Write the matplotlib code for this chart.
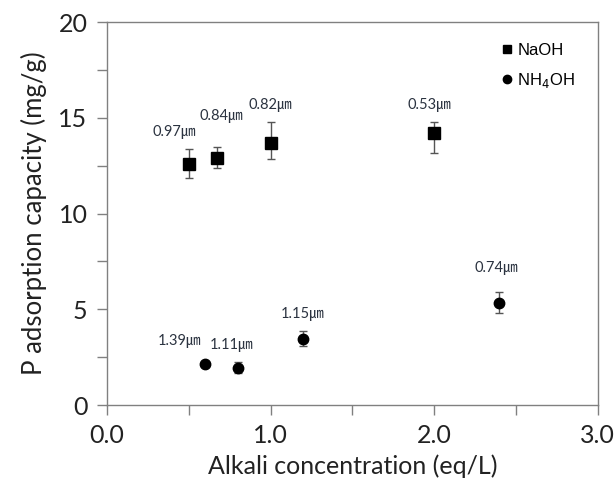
import matplotlib
matplotlib.use("Agg")
import matplotlib.pyplot as plt
from matplotlib.ticker import MultipleLocator

# Data
naoh_x = [0.5, 0.67, 1.0, 2.0]
naoh_y = [12.58, 12.9, 13.67, 14.22]
naoh_err_lo = [0.72, 0.5, 0.8, 1.08]
naoh_err_hi = [0.78, 0.58, 1.1, 0.55]

nh4_x = [0.6, 0.8, 1.2, 2.4]
nh4_y = [2.16, 1.95, 3.45, 5.31]
nh4_err_lo = [0.1, 0.3, 0.35, 0.5]
nh4_err_hi = [0.1, 0.3, 0.42, 0.6]

naoh_labels = ["0.97㎛", "0.84㎛", "0.82㎛", "0.53㎛"]
naoh_label_x = [0.413, 0.698, 1.0, 1.973]
naoh_label_y = [14.26, 15.09, 15.67, 15.67]

nh4_labels = ["1.39㎛", "1.11㎛", "1.15㎛", "0.74㎛"]
nh4_label_x = [0.443, 0.759, 1.196, 2.38]
nh4_label_y = [3.34, 3.13, 4.75, 7.15]

x_ticks = [0, 1, 2, 3]
x_ticklabels = ["0.0", "1.0", "2.0", "3.0"]
y_ticks = [0, 5, 10, 15, 20]

fig = plt.figure(figsize=(6.16, 4.97), dpi=100)
ax = fig.add_axes([0.1737, 0.1851, 0.7963, 0.7706])

ecol = "#555555"
ax.errorbar(naoh_x, naoh_y, yerr=[naoh_err_lo, naoh_err_hi], fmt="s", color="black",
            ms=8, ecolor=ecol, elinewidth=1.0, capsize=3, capthick=1.0, zorder=3)
ax.errorbar(nh4_x, nh4_y, yerr=[nh4_err_lo, nh4_err_hi], fmt="o", color="black",
            ms=7.5, ecolor=ecol, elinewidth=1.0, capsize=3, capthick=1.0, zorder=3)

lab_font = ["Lato", "Noto Sans CJK JP", "DejaVu Sans"]
lab_col = "#2b3340"
for t, x, y in zip(naoh_labels, naoh_label_x, naoh_label_y):
    ax.text(x, y, t, ha="center", va="center", fontsize=10.5, color=lab_col, family=lab_font)
for t, x, y in zip(nh4_labels, nh4_label_x, nh4_label_y):
    ax.text(x, y, t, ha="center", va="center", fontsize=10.5, color=lab_col, family=lab_font)

leg_h1, = ax.plot([], [], "s", color="black", ms=6)
leg_h2, = ax.plot([], [], "o", color="black", ms=6)
leg = ax.legend([leg_h1, leg_h2], ["NaOH", "NH$_4$OH"], loc="upper right",
                bbox_to_anchor=(0.985, 0.985), frameon=False, handlelength=0.6,
                handletextpad=0.3, labelspacing=0.8,
                prop={"family": "Liberation Sans", "size": 12})

ax.set_xlim(0, 3)
ax.set_ylim(0, 20)
ax.set_xticks(x_ticks)
ax.set_xticklabels(x_ticklabels)
ax.set_yticks(y_ticks)
ax.xaxis.set_minor_locator(MultipleLocator(0.5))
ax.yaxis.set_minor_locator(MultipleLocator(2.5))

spine_col = "#808080"
for s in ax.spines.values():
    s.set_color(spine_col)
    s.set_linewidth(1.0)
ax.tick_params(which="both", direction="out", color=spine_col, width=1.0)
ax.tick_params(which="major", length=7, labelsize=18, pad=7, labelcolor="#222222")
ax.tick_params(which="minor", length=7)
for lbl in ax.get_xticklabels() + ax.get_yticklabels():
    lbl.set_family("Lato")

ax.set_xlabel("Alkali concentration (eq/L)", fontsize=18, family="Lato", color="#222222", labelpad=5)
ax.set_ylabel("P adsorption capacity (mg/g)", fontsize=18.5, family="Lato", color="#222222", labelpad=8)

fig.savefig("out.png", dpi=100)
